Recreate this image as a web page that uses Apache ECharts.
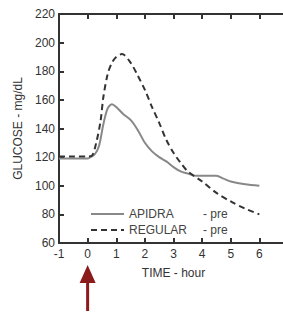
<!DOCTYPE html>
<html>
<head>
<meta charset="utf-8">
<script src="https://cdn.jsdelivr.net/npm/echarts@6/dist/echarts.min.js"></script>
<style>
  html, body { margin: 0; padding: 0; background: #fff; }
  #chart { width: 283px; height: 317px; }
</style>
</head>
<body>
<div id="chart"></div>
<script>
// glucose curves, time in hours
var apidraTime = [-1, -0.5, 0, 0.1, 0.25, 0.4, 0.55, 0.7, 0.85, 1.0, 1.25, 1.5, 1.75, 2.0, 2.25, 2.5, 2.75, 3.0, 3.25, 3.5, 3.75, 4.0, 4.25, 4.5, 4.75, 5.0, 5.5, 6.0]
var apidraVals = [119, 119, 119, 120, 122, 128, 143, 154, 157, 155, 150, 146, 139, 130, 124, 120, 117, 113, 110, 108.5, 107, 107, 107, 107, 105, 103, 101, 100]
var regularTime = [-1, -0.5, 0, 0.15, 0.3, 0.45, 0.55, 0.7, 0.85, 1.0, 1.2, 1.5, 1.75, 2.0, 2.25, 2.5, 2.75, 3.0, 3.25, 3.5, 4.0, 4.5, 5.0, 5.5, 6.0]
var regularVals = [120.5, 120.5, 120.5, 121, 130, 145, 162, 178, 186, 190, 192, 186, 177, 167, 155, 144, 132, 123, 116, 110, 103, 95, 89, 84, 80]

function pairs(t, v) {
    return t.map(function (x, i) { return [x, v[i]] })
}

var chart = echarts.init(document.getElementById('chart'), null, { renderer: 'svg' })
var font = 'Liberation Sans, Arial, sans-serif'

// axis lines and inward ticks used on all four sides of the frame
function frameAxis(pos, isX) {
    var a = {
        type: 'value',
        position: pos,
        axisLine: { show: true, onZero: false, lineStyle: { color: '#333', width: 2 } },
        axisTick: { show: true, inside: true, length: 5, lineStyle: { color: '#333', width: 2 } },
        splitLine: { show: false },
        axisLabel: { show: false }
    }
    if (isX) { a.min = -1; a.max = 7; a.interval = 1 } else { a.min = 60; a.max = 220; a.interval = 20 }
    return a
}

var xBottom = frameAxis('bottom', true)
xBottom.name = 'TIME - hour'
xBottom.nameLocation = 'middle'
xBottom.nameGap = 24
xBottom.nameTextStyle = { fontFamily: font, fontSize: 12, color: '#333' }
xBottom.axisLabel = { show: true, fontFamily: font, fontSize: 12, color: '#333', margin: 5 }

var yLeft = frameAxis('left', false)
yLeft.name = 'GLUCOSE - mg/dL'
yLeft.nameLocation = 'middle'
yLeft.nameGap = 33
yLeft.nameTextStyle = { fontFamily: font, fontSize: 12, color: '#333' }
yLeft.axisLabel = { show: true, fontFamily: font, fontSize: 12, color: '#333', margin: 4 }

chart.setOption({
    animation: false,
    grid: {
        left: 59, right: -5, top: 14, bottom: 74,
        outerBoundsMode: 'none',
        show: true, borderColor: '#333', borderWidth: 2
    },
    legend: {
        orient: 'vertical',
        left: 85,
        top: 203,
        itemWidth: 33,
        itemHeight: 10,
        itemGap: 4,
        data: ['APIDRA', 'REGULAR'],
        itemStyle: { opacity: 0 },
        formatter: function (name) {
            return '{a|' + name + '}{b|- pre}'
        },
        textStyle: {
            fontFamily: font,
            fontSize: 12,
            color: '#444',
            rich: {
                a: { width: 74, fontFamily: font, fontSize: 12, color: '#444' },
                b: { fontFamily: font, fontSize: 12, color: '#444' }
            }
        }
    },
    xAxis: [xBottom, frameAxis('top', true)],
    yAxis: [yLeft, frameAxis('right', false)],
    series: [{
        name: 'APIDRA',
        type: 'line',
        smooth: 0.3,
        symbol: 'none',
        data: pairs(apidraTime, apidraVals),
        lineStyle: { color: '#888', width: 2 },
        itemStyle: { color: '#888' }
    }, {
        name: 'REGULAR',
        type: 'line',
        smooth: 0.3,
        symbol: 'none',
        data: pairs(regularTime, regularVals),
        lineStyle: { color: '#333', width: 2, type: [6, 4] },
        itemStyle: { color: '#333' }
    }]
})

// dosing arrow under t = 0
var ax = chart.convertToPixel({ xAxisIndex: 0 }, 0)
chart.setOption({
    graphic: [{
        type: 'polygon',
        shape: { points: [[ax, 265], [ax - 8, 283], [ax + 8, 283]] },
        style: { fill: '#8b1a1a' }
    }, {
        type: 'rect',
        shape: { x: ax - 1.5, y: 282, width: 3, height: 29 },
        style: { fill: '#8b1a1a' }
    }]
})
</script>
</body>
</html>
